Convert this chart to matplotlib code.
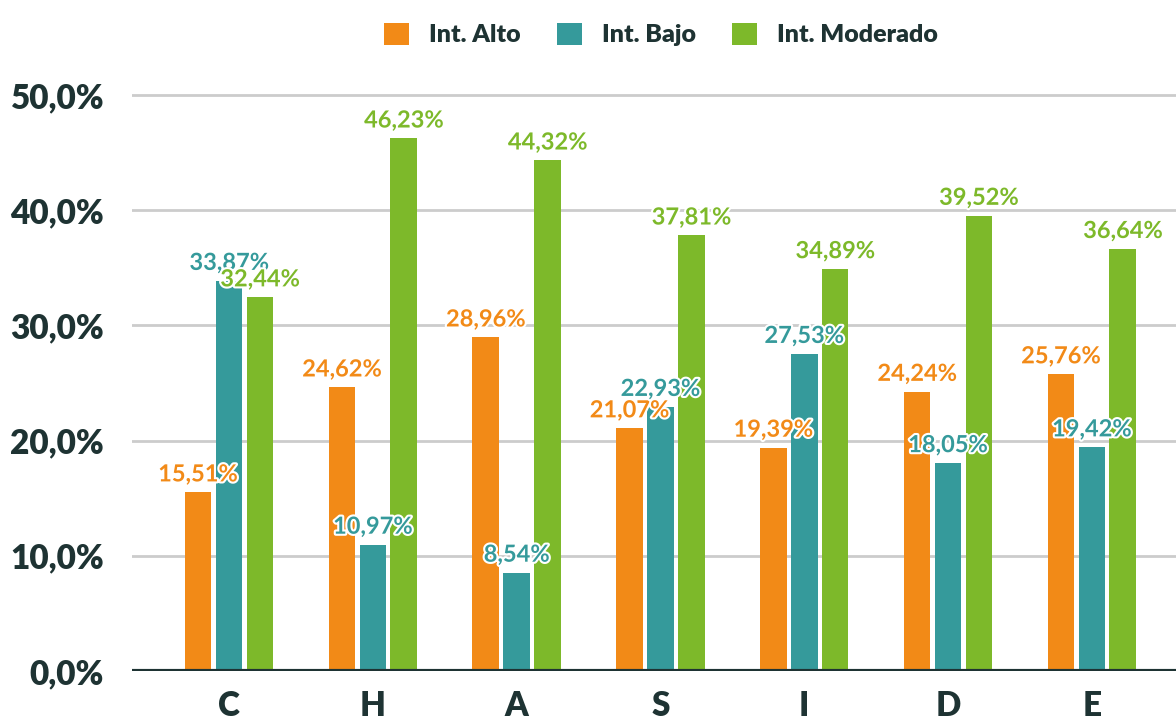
import matplotlib
matplotlib.use("Agg")
from matplotlib import pyplot as plt
from matplotlib import patheffects as pe
import numpy as np

categories = ['C', 'H', 'A', 'S', 'I', 'D', 'E']
alto = [15.51, 24.62, 28.96, 21.07, 19.39, 24.24, 25.76]
bajo = [33.87, 10.97, 8.54, 22.93, 27.53, 18.05, 19.42]
moderado = [32.44, 46.23, 44.32, 37.81, 34.89, 39.52, 36.64]
series_names = ['Int. Alto', 'Int. Bajo', 'Int. Moderado']
colors = ['#F28A17', '#359A9B', '#7DB92A']
dark = '#1E3333'

plt.rcParams['font.family'] = ['Lato', 'DejaVu Sans']

fig = plt.figure(figsize=(11.76, 7.21), dpi=100)
ax = fig.add_axes([132 / 1176, 50 / 721, 1 - 132 / 1176, (671 - 50) / 721])

x = np.arange(len(categories))
width = 0.185
step = 0.215
for i, (vals, name, col) in enumerate(zip([alto, bajo, moderado], series_names, colors)):
    pos = x + (i - 1) * step
    ax.bar(pos, vals, width=width, color=col, label=name, zorder=3)
    for p, v in zip(pos, vals):
        ax.text(p, v + 0.6, f'{v:.2f}%'.replace('.', ','), ha='center', va='bottom',
                color=col, fontsize=17, fontweight='bold', zorder=5,
                path_effects=[pe.withStroke(linewidth=3, foreground='white')])

ax.set_xlim(-0.675, 6.585)
ax.set_ylim(0, (671 - 50) / 11.52)
ax.set_yticks([0, 10, 20, 30, 40, 50])
ax.set_yticklabels(['0,0%', '10,0%', '20,0%', '30,0%', '40,0%', '50,0%'])
ax.set_xticks(x)
ax.set_xticklabels(categories)
ax.tick_params(axis='both', length=0, labelsize=24, labelcolor=dark)
ax.tick_params(axis='y', pad=20)
ax.tick_params(axis='x', pad=14)
for lab in ax.get_xticklabels() + ax.get_yticklabels():
    lab.set_fontweight('heavy')

for y in [10, 20, 30, 40, 50]:
    ax.axhline(y, color='#CCCCCC', linewidth=2, zorder=1)
ax.axhline(0, color=dark, linewidth=3, zorder=4)
for s in ax.spines.values():
    s.set_visible(False)

leg = fig.legend(loc='upper center', ncol=3, frameon=False, bbox_to_anchor=(0.562, 1.0),
                 handlelength=1.0, handleheight=1.0, columnspacing=1.45, handletextpad=0.8,
                 prop={'size': 18, 'weight': 'heavy'})
for t in leg.get_texts():
    t.set_color(dark)

fig.savefig('out.png', dpi=100)
